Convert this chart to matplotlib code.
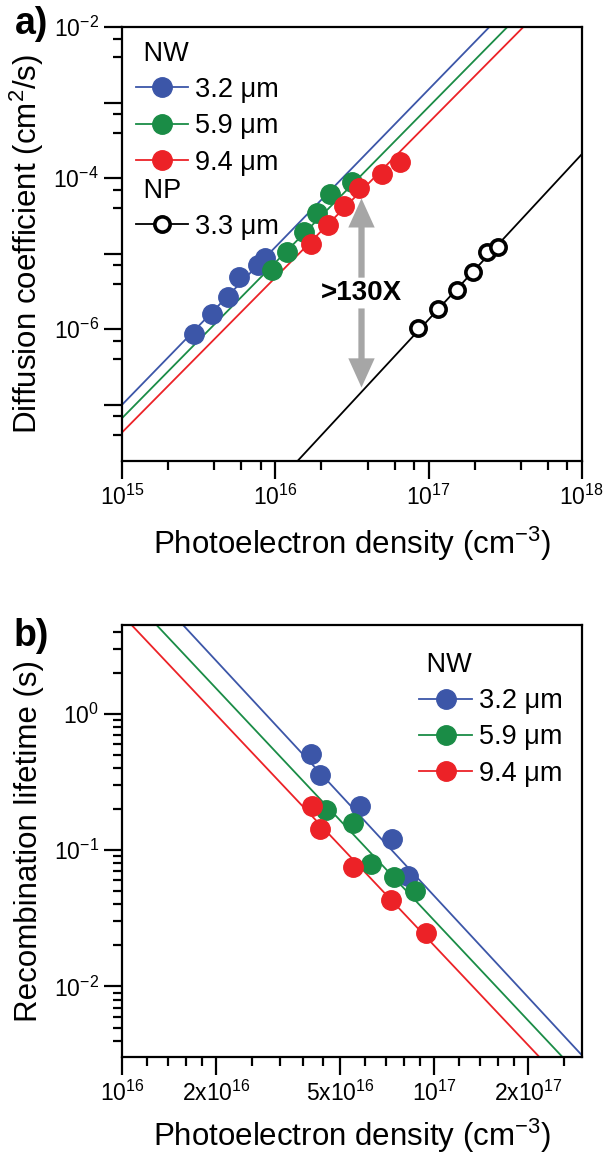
import numpy as np
import matplotlib
matplotlib.use('Agg')
import matplotlib.pyplot as plt
from matplotlib.lines import Line2D
from matplotlib.ticker import FixedLocator, FixedFormatter, LogLocator, NullFormatter

plt.rcParams['font.family'] = ['Liberation Sans', 'DejaVu Sans']
plt.rcParams['mathtext.fontset'] = 'custom'
plt.rcParams['mathtext.rm'] = 'Liberation Sans'
plt.rcParams['mathtext.default'] = 'regular'

# ---- panel a: diffusion coefficient vs photoelectron density ----
labels_nw = ['3.2 \u03bcm', '5.9 \u03bcm', '9.4 \u03bcm']
label_np = '3.3 \u03bcm'
colors = ['#3c56a8', '#1a8c46', '#ec2227']

n_a_blue = [2.96e15, 3.83e15, 4.87e15, 5.8e15, 7.74e15, 8.55e15]
d_a_blue = [8.6e-7, 1.56e-6, 2.69e-6, 4.85e-6, 7.0e-6, 8.7e-6]
n_a_green = [9.5e15, 1.19e16, 1.54e16, 1.87e16, 2.26e16, 3.16e16]
d_a_green = [6.1e-6, 1.05e-5, 1.91e-5, 3.4e-5, 6.1e-5, 8.97e-5]
n_a_red = [1.7e16, 2.2e16, 2.81e16, 3.51e16, 4.94e16, 6.55e16]
d_a_red = [1.33e-5, 2.38e-5, 4.23e-5, 7.45e-5, 1.13e-4, 1.63e-4]
n_a_np = [8.5e16, 1.16e17, 1.54e17, 1.94e17, 2.42e17, 2.83e17]
d_a_np = [1.03e-6, 1.82e-6, 3.27e-6, 5.77e-6, 1.04e-5, 1.24e-5]

# power-law fits D = A * (n / 1e15)^p
fit_a_pref = [1.0e-7, 6.65e-8, 4.3e-8]
fit_a_exp = [2.087, 2.06, 2.05]
fit_np_pref = 5.56e-11
fit_np_exp = 2.19

# ">130X" annotation
arrow_n = 3.65e16
arrow_top = 5.4e-5
arrow_bottom = 1.68e-7
ratio_text = '>130X'
ratio_d = 3.0e-6

# ---- panel b: recombination lifetime vs photoelectron density ----
n_b_blue = [4.04e16, 4.31e16, 5.77e16, 7.35e16, 8.24e16]
t_b_blue = [0.508, 0.357, 0.210, 0.1215, 0.0644]
n_b_green = [4.5e16, 5.48e16, 6.25e16, 7.41e16, 8.67e16]
t_b_green = [0.1977, 0.159, 0.0788, 0.0632, 0.0503]
n_b_red = [4.07e16, 4.31e16, 5.48e16, 7.25e16, 9.42e16]
t_b_red = [0.2115, 0.1435, 0.075, 0.0431, 0.0248]

# tau = B * (n / 1e16)^q
fit_b_pref = [10**1.131, 10**0.918, 10**0.723]
fit_b_exp = [-2.467, -2.434, -2.423]


def style_axes(ax):
    for side in ['left', 'bottom', 'top', 'right']:
        ax.spines[side].set_linewidth(1.6)
    ax.tick_params(which='both', direction='out', top=False, right=False,
                   width=1.6, labelsize=16.5, pad=4)
    ax.tick_params(which='major', length=13)
    ax.tick_params(which='minor', length=6.5)


leg_kw = dict(loc='upper left', alignment='left', frameon=False,
              fontsize=19.5, title_fontsize=19.5, handlelength=1.95,
              handletextpad=0.25, labelspacing=0.38, borderpad=0, borderaxespad=0)

fig = plt.figure(figsize=(6.06, 11.59), dpi=100)

# ===== a) =====
ax1 = fig.add_axes([0.2018, 0.6025, 0.758, 0.374])
ax1.set_xscale('log')
ax1.set_yscale('log')
xa = np.logspace(15, 18, 300)
for A, p, c in zip(fit_a_pref, fit_a_exp, colors):
    ax1.plot(xa, A * (xa / 1e15) ** p, color=c, lw=1.3, zorder=2)
ax1.plot(xa, fit_np_pref * (xa / 1e15) ** fit_np_exp, color='black', lw=1.3, zorder=2)

for n, d, c in zip([n_a_blue, n_a_green, n_a_red], [d_a_blue, d_a_green, d_a_red], colors):
    ax1.plot(n, d, 'o', color=c, ms=14, mec=c, zorder=3)
ax1.plot(n_a_np, d_a_np, 'o', mfc='white', mec='black', mew=2.6, ms=11, zorder=3)

ax1.text(arrow_n, ratio_d, ratio_text, ha='center', va='center', fontsize=20,
         fontweight='bold')
arrow_style = dict(arrowstyle='simple,head_width=1.9,head_length=2.1,tail_width=0.45',
                   color='#a6a6a6', lw=0, shrinkA=0, shrinkB=0)
ax1.annotate('', xy=(arrow_n, arrow_top), xytext=(arrow_n, ratio_d * 1.6),
             arrowprops=arrow_style)
ax1.annotate('', xy=(arrow_n, arrow_bottom), xytext=(arrow_n, ratio_d / 1.6),
             arrowprops=arrow_style)

ax1.set_xlim(1e15, 1e18)
ax1.set_ylim(1.8e-8, 1e-2)
ax1.xaxis.set_major_locator(FixedLocator([1e15, 1e16, 1e17, 1e18]))
ax1.xaxis.set_major_formatter(FixedFormatter(['$10^{15}$', '$10^{16}$', '$10^{17}$', '$10^{18}$']))
ax1.xaxis.set_minor_locator(LogLocator(base=10, subs=[2, 4, 6, 8]))
ax1.xaxis.set_minor_formatter(NullFormatter())
dec = np.arange(-2, -8, -1)
ax1.yaxis.set_major_locator(FixedLocator(10.0 ** dec))
ax1.yaxis.set_major_formatter(FixedFormatter(
    ['$10^{%d}$' % e if e % 2 == 0 else '' for e in dec]))
ax1.yaxis.set_minor_locator(LogLocator(base=10, subs=[4, 7]))
ax1.yaxis.set_minor_formatter(NullFormatter())
style_axes(ax1)
ax1.set_xlabel('Photoelectron density (cm$^{-3}$)', fontsize=22.5)
ax1.set_ylabel('Diffusion coefficient (cm$^{2}$/s)', fontsize=22.5)
ax1.xaxis.set_label_coords(0.5, -0.148)
ax1.yaxis.set_label_coords(-0.166, 0.5)

h_nw = [Line2D([], [], color=c, marker='o', ms=14, lw=1.3) for c in colors]
leg1 = ax1.legend(h_nw, labels_nw, title=' NW', bbox_to_anchor=(0.029, 0.969), **leg_kw)
ax1.add_artist(leg1)
h_np = [Line2D([], [], color='black', marker='o', mfc='white', mec='black', mew=2.6,
               ms=11, lw=1.3)]
ax1.legend(h_np, [label_np], title=' NP', bbox_to_anchor=(0.029, 0.653), **leg_kw)

# ===== b) =====
ax2 = fig.add_axes([0.2018, 0.088, 0.758, 0.3727])
ax2.set_xscale('log')
ax2.set_yscale('log')
xb = np.logspace(16, np.log10(3e17), 300)
for B, q, c in zip(fit_b_pref, fit_b_exp, colors):
    ax2.plot(xb, B * (xb / 1e16) ** q, color=c, lw=1.3, zorder=2)
for n, t, c in zip([n_b_blue, n_b_green, n_b_red], [t_b_blue, t_b_green, t_b_red], colors):
    ax2.plot(n, t, 'o', color=c, ms=14, mec=c, zorder=3)

ax2.set_xlim(1e16, 2.97e17)
ax2.set_ylim(3.04e-3, 4.47)
xmaj = [1e16, 2e16, 5e16, 1e17, 2e17]
ax2.xaxis.set_major_locator(FixedLocator(xmaj))
ax2.xaxis.set_major_formatter(FixedFormatter(
    ['$10^{16}$', '$2x10^{16}$', '$5x10^{16}$', '$10^{17}$', '$2x10^{17}$']))
edges = xmaj + [5e17]
xminor = np.concatenate([np.linspace(a, b, 6)[1:-1] for a, b in zip(edges[:-1], edges[1:])])
ax2.xaxis.set_minor_locator(FixedLocator(xminor))
ax2.xaxis.set_minor_formatter(NullFormatter())
ax2.yaxis.set_major_locator(FixedLocator([1e-2, 1e-1, 1e0]))
ax2.yaxis.set_major_formatter(FixedFormatter(['$10^{-2}$', '$10^{-1}$', '$10^{0}$']))
ax2.yaxis.set_minor_locator(LogLocator(base=10, subs=np.arange(2, 10)))
ax2.yaxis.set_minor_formatter(NullFormatter())
style_axes(ax2)
ax2.set_xlabel('Photoelectron density (cm$^{-3}$)', fontsize=22.5)
ax2.set_ylabel('Recombination lifetime (s)', fontsize=22.5)
ax2.xaxis.set_label_coords(0.5, -0.139)
ax2.yaxis.set_label_coords(-0.17, 0.5)

h_b = [Line2D([], [], color=c, marker='o', ms=14, lw=1.3) for c in colors]
ax2.legend(h_b, labels_nw, title=' NW', bbox_to_anchor=(0.647, 0.938), **leg_kw)

fig.text(0.025, 0.979, 'a)', fontsize=27, fontweight='bold', va='center', ha='left')
fig.text(0.022, 0.451, 'b)', fontsize=27, fontweight='bold', va='center', ha='left')

fig.savefig('out.png', dpi=100)
